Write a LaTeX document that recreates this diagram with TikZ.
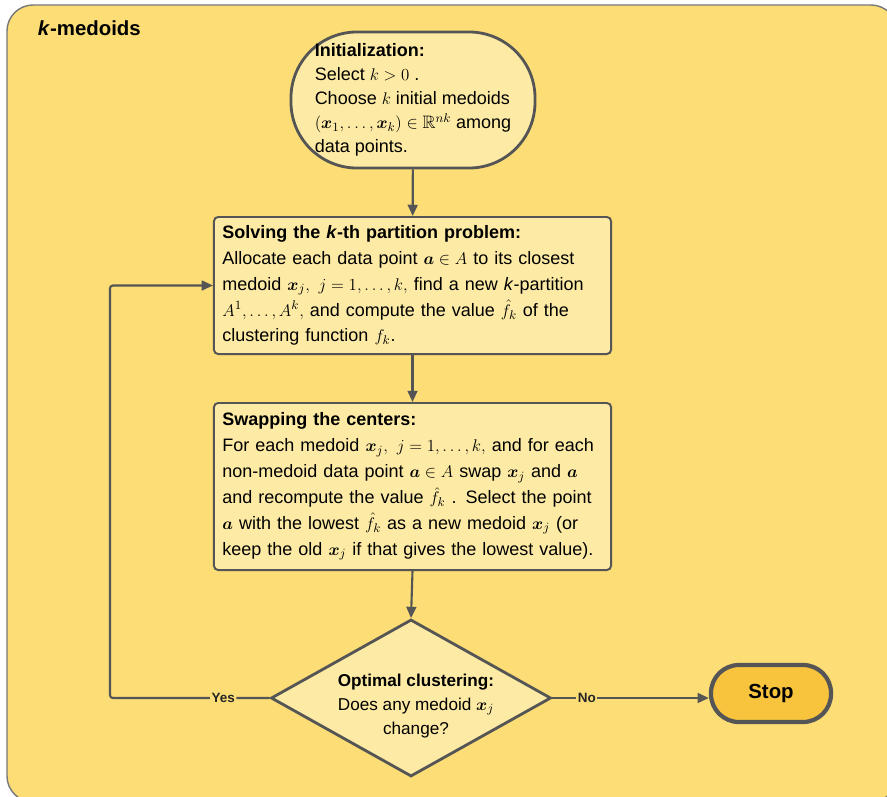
\documentclass[tikz,border=0pt]{standalone}
\usepackage{amsmath,amssymb}
\usepackage{fontspec}
\setmainfont{Liberation Sans}
\usetikzlibrary{arrows.meta,shapes.geometric}

\definecolor{bgyellow}{RGB}{252,221,118}
\definecolor{boxfill}{RGB}{253,235,165}
\definecolor{stopfill}{RGB}{248,196,62}
\definecolor{linegray}{RGB}{85,85,85}
\definecolor{framegray}{RGB}{120,120,120}

\begin{document}
\begin{tikzpicture}[
  x=0.025cm, y=-0.025cm,
  font=\fontsize{12.8}{18.4}\selectfont,
  >={Triangle[length=8pt,width=7pt]},
  initnode/.style={
    rectangle, rounded corners=1.65cm,
    draw=linegray, line width=2pt, fill=boxfill,
    minimum width=6.1cm, minimum height=3.4cm,
    align=left, inner sep=0pt,
    font=\fontsize{12.8}{17}\selectfont
  },
  procbox/.style={
    rectangle, rounded corners=3pt,
    draw=linegray, line width=1.4pt, fill=boxfill,
    minimum width=9.925cm, text width=9.5cm,
    align=left, inner sep=0pt
  },
  decision/.style={
    diamond, draw=linegray, line width=2pt, fill=boxfill,
    minimum width=7cm, minimum height=3.925cm, inner sep=0pt
  },
  stopnode/.style={
    rectangle, rounded corners=0.7cm,
    draw=linegray, line width=3pt, fill=stopfill,
    minimum width=3cm, minimum height=1.425cm,
    font=\fontsize{14.5}{16}\selectfont\bfseries
  },
  arr/.style={->, line width=1.5pt, linegray},
  lbl/.style={fill=bgyellow, text=black!85, inner sep=1pt, font=\fontsize{9.6}{11}\selectfont\bfseries}
]

%% -- frame and title --
\useasboundingbox (0,0) rectangle (887,796);
\clip (0,0) rectangle (887,796);
\draw[framegray, line width=1pt, fill=bgyellow, rounded corners=0.65cm] (7,5) rectangle (897,802);
\node[anchor=west, font=\fontsize{14.5}{16}\selectfont\bfseries] (title) at (33,28) {\textit{k}-medoids};

%% -- initialization --
\node[initnode] (init) at (413,100) {
  \textbf{Initialization:}\\
  Select $k>0$ .\\
  Choose $k$ initial medoids\\
  $(\boldsymbol{x}_1,\ldots,\boldsymbol{x}_k)\in\mathbb{R}^{nk}$ among\\
  data points.
};

%% -- partition step --
\node[procbox, minimum height=3.425cm] (solve) at (412.5,285.5) {
  \textbf{Solving the \textit{k}-th partition problem:}\\
  Allocate each data point $\boldsymbol{a}\in A$ to its closest\\
  medoid $\boldsymbol{x}_j,\ j=1,\ldots,k,$ find a new \textit{k}-partition\\
  $A^1,\ldots,A^k,$ and compute the value $\hat{f}_k$ of the\\
  clustering function $f_k$.
};
\draw[arr] (init) -- (solve);

%% -- swap step --
\node[procbox, minimum height=4.175cm] (swap) at (412.5,486.5) {
  \textbf{Swapping the centers:}\\
  For each medoid $\boldsymbol{x}_j,\ j=1,\ldots,k,$ and for each\\
  non-medoid data point $\boldsymbol{a}\in A$ swap $\boldsymbol{x}_j$ and $\boldsymbol{a}$\\
  and recompute the value $\hat{f}_k$ . Select the point\\
  $\boldsymbol{a}$ with the lowest $\hat{f}_k$ as a new medoid $\boldsymbol{x}_j$ (or\\
  keep the old $\boldsymbol{x}_j$ if that gives the lowest value).
};
\draw[arr] (solve) -- (swap);

%% -- decision --
\node[decision] (opt) at (411,698) {};
\node[align=center, font=\fontsize{12.2}{17}\selectfont] (opttext) at (416,706) {
  {\bfseries Optimal clustering:}\\
  Does any medoid $\boldsymbol{x}_j$\\
  change?
};
\draw[arr] (swap.south) -- (opt.north);

\node[stopnode] (stop) at (771,693.5) {Stop};

%% -- loop back and exit --
\coordinate (loop) at (110,698);
\draw[arr, rounded corners=2pt] (opt.west) -- node[lbl, pos=0.29] {Yes} (loop) |- (solve.west);
\draw[arr] (opt.east) -- node[lbl, pos=0.22] {No} (opt.east -| stop.west);

\end{tikzpicture}
\end{document}
